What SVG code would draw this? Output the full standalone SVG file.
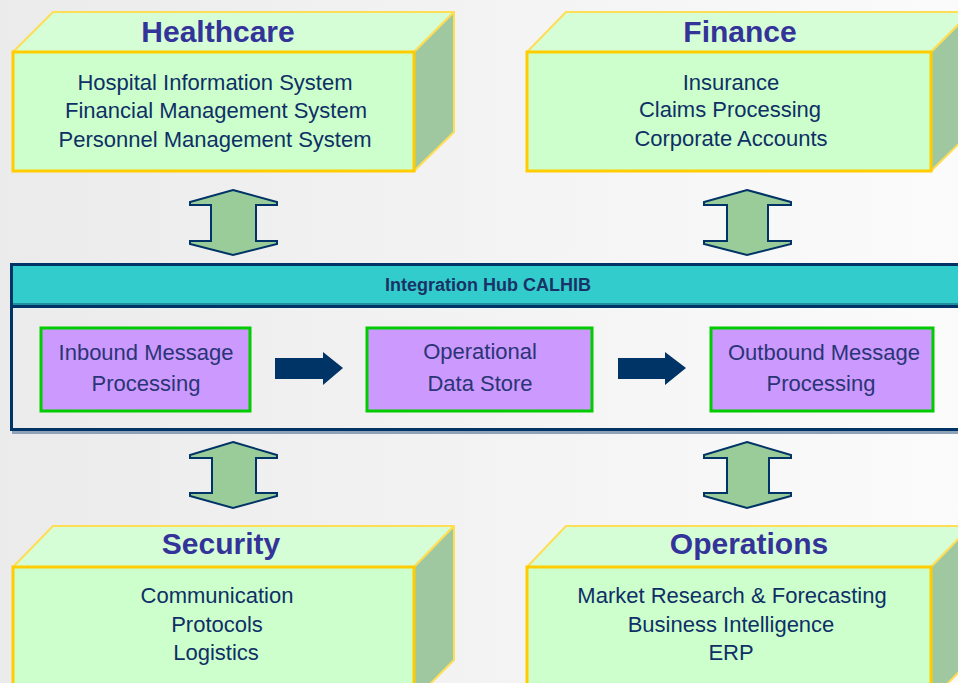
<svg xmlns="http://www.w3.org/2000/svg" width="958" height="683" viewBox="0 0 958 683">
<defs>
<linearGradient id="bg" x1="0" y1="0" x2="1" y2="0">
<stop offset="0" stop-color="#ebebeb"/>
<stop offset="1" stop-color="#fbfbfb"/>
</linearGradient>
<style>
.top{fill:#d6fed6;stroke:#ffdd55;stroke-width:2;stroke-linejoin:round}
.side{fill:#a0c8a0;stroke:#ffdd55;stroke-width:2;stroke-linejoin:round}
.front{fill:#ccffcc;stroke:#ffcc00;stroke-width:3}
.title{font-family:"Liberation Sans",Arial,sans-serif;font-weight:bold;font-size:30px;fill:#333399;text-anchor:middle}
.body{font-family:"Liberation Sans",Arial,sans-serif;font-size:22px;fill:#0f2f66;text-anchor:middle}
.proc{fill:#cc99ff;stroke:#00cc00;stroke-width:3}
.ptxt{font-family:"Liberation Sans",Arial,sans-serif;font-size:22px;fill:#2a3575;text-anchor:middle}
.dbl{fill:#99cc99;stroke:#003366;stroke-width:2;stroke-linejoin:miter}
.harr{fill:#003366}
</style>
</defs>
<rect width="958" height="683" fill="url(#bg)"/>

<g id="healthcare">
<polygon class="top" points="13,52 53,12 454,12 414,52"/>
<polygon class="side" points="414,52 454,12 454,132 414,171"/>
<rect class="front" x="13" y="52" width="401" height="119"/>
<text class="title" x="218" y="42">Healthcare</text>
<text class="body" x="215" y="90">Hospital Information System</text>
<text class="body" x="216" y="118">Financial Management System</text>
<text class="body" x="215" y="147">Personnel Management System</text>
</g>

<g id="finance">
<polygon class="top" points="527,52 566,12 971,12 931,52"/>
<polygon class="side" points="931,52 971,12 971,132 931,171"/>
<rect class="front" x="527" y="52" width="404" height="119"/>
<text class="title" x="740" y="42">Finance</text>
<text class="body" x="731" y="90">Insurance</text>
<text class="body" x="730" y="117">Claims Processing</text>
<text class="body" x="731" y="146">Corporate Accounts</text>
</g>

<g id="security">
<polygon class="top" points="13,567 53,526 454,526 414,567"/>
<polygon class="side" points="414,567 454,526 454,660 414,700"/>
<rect class="front" x="13" y="567" width="401" height="130"/>
<text class="title" x="221" y="554">Security</text>
<text class="body" x="217" y="603">Communication</text>
<text class="body" x="217" y="632">Protocols</text>
<text class="body" x="216" y="660">Logistics</text>
</g>

<g id="operations">
<polygon class="top" points="527,567 566,526 971,526 931,567"/>
<polygon class="side" points="931,567 971,526 971,660 931,700"/>
<rect class="front" x="527" y="567" width="404" height="130"/>
<text class="title" x="749" y="554">Operations</text>
<text class="body" x="732" y="603">Market Research &amp; Forecasting</text>
<text class="body" x="731" y="632">Business Intelligence</text>
<text class="body" x="731" y="660">ERP</text>
</g>

<g id="hub">
<line x1="12" y1="432.5" x2="958" y2="432.5" stroke="#8ea2b8" stroke-width="3"/>
<rect x="10" y="265" width="960" height="40" fill="#33cccc"/>
<line x1="10" y1="304" x2="970" y2="304" stroke="#1f8f9f" stroke-width="2"/>
<line x1="10" y1="306.5" x2="970" y2="306.5" stroke="#003366" stroke-width="3"/>
<rect x="11.5" y="264.5" width="960" height="165" fill="none" stroke="#003366" stroke-width="3"/>
<text x="488" y="291" font-family="Liberation Sans, Arial, sans-serif" font-weight="bold" font-size="18" fill="#1a3366" text-anchor="middle">Integration Hub CALHIB</text>
</g>

<g id="inbound">
<rect class="proc" x="41" y="328" width="209" height="83"/>
<text class="ptxt" x="146" y="360">Inbound Message</text>
<text class="ptxt" x="146" y="391">Processing</text>
</g>

<g id="ods">
<rect class="proc" x="367" y="328" width="225" height="83"/>
<text class="ptxt" x="480" y="359">Operational</text>
<text class="ptxt" x="480" y="391">Data Store</text>
</g>

<g id="outbound">
<rect class="proc" x="711" y="328" width="222" height="83"/>
<text class="ptxt" x="824" y="360">Outbound Message</text>
<text class="ptxt" x="821" y="391">Processing</text>
</g>

<g id="connectors">
<polygon class="dbl" points="233,190 277,202 277,205 256,205 256,241 277,241 277,244 233,255 190,244 190,241 211,241 211,205 190,205 190,202"/>
<polygon class="dbl" points="747,190 791,202 791,205 768,205 768,241 791,241 791,244 747,255 704,244 704,241 727,241 727,205 704,205 704,202"/>
<polygon class="dbl" points="233,442 277,455 277,458 256,458 256,493 277,493 277,496 233,508 190,496 190,493 212,493 212,458 190,458 190,455"/>
<polygon class="dbl" points="747,442 791,455 791,458 769,458 769,493 791,493 791,496 747,508 704,496 704,493 727,493 727,458 704,458 704,455"/>
<polygon class="harr" points="275,358 323,358 323,352 343,368 323,385 323,379 275,379"/>
<polygon class="harr" points="618,358 665,358 665,352 686,368 665,385 665,379 618,379"/>
</g>
</svg>
